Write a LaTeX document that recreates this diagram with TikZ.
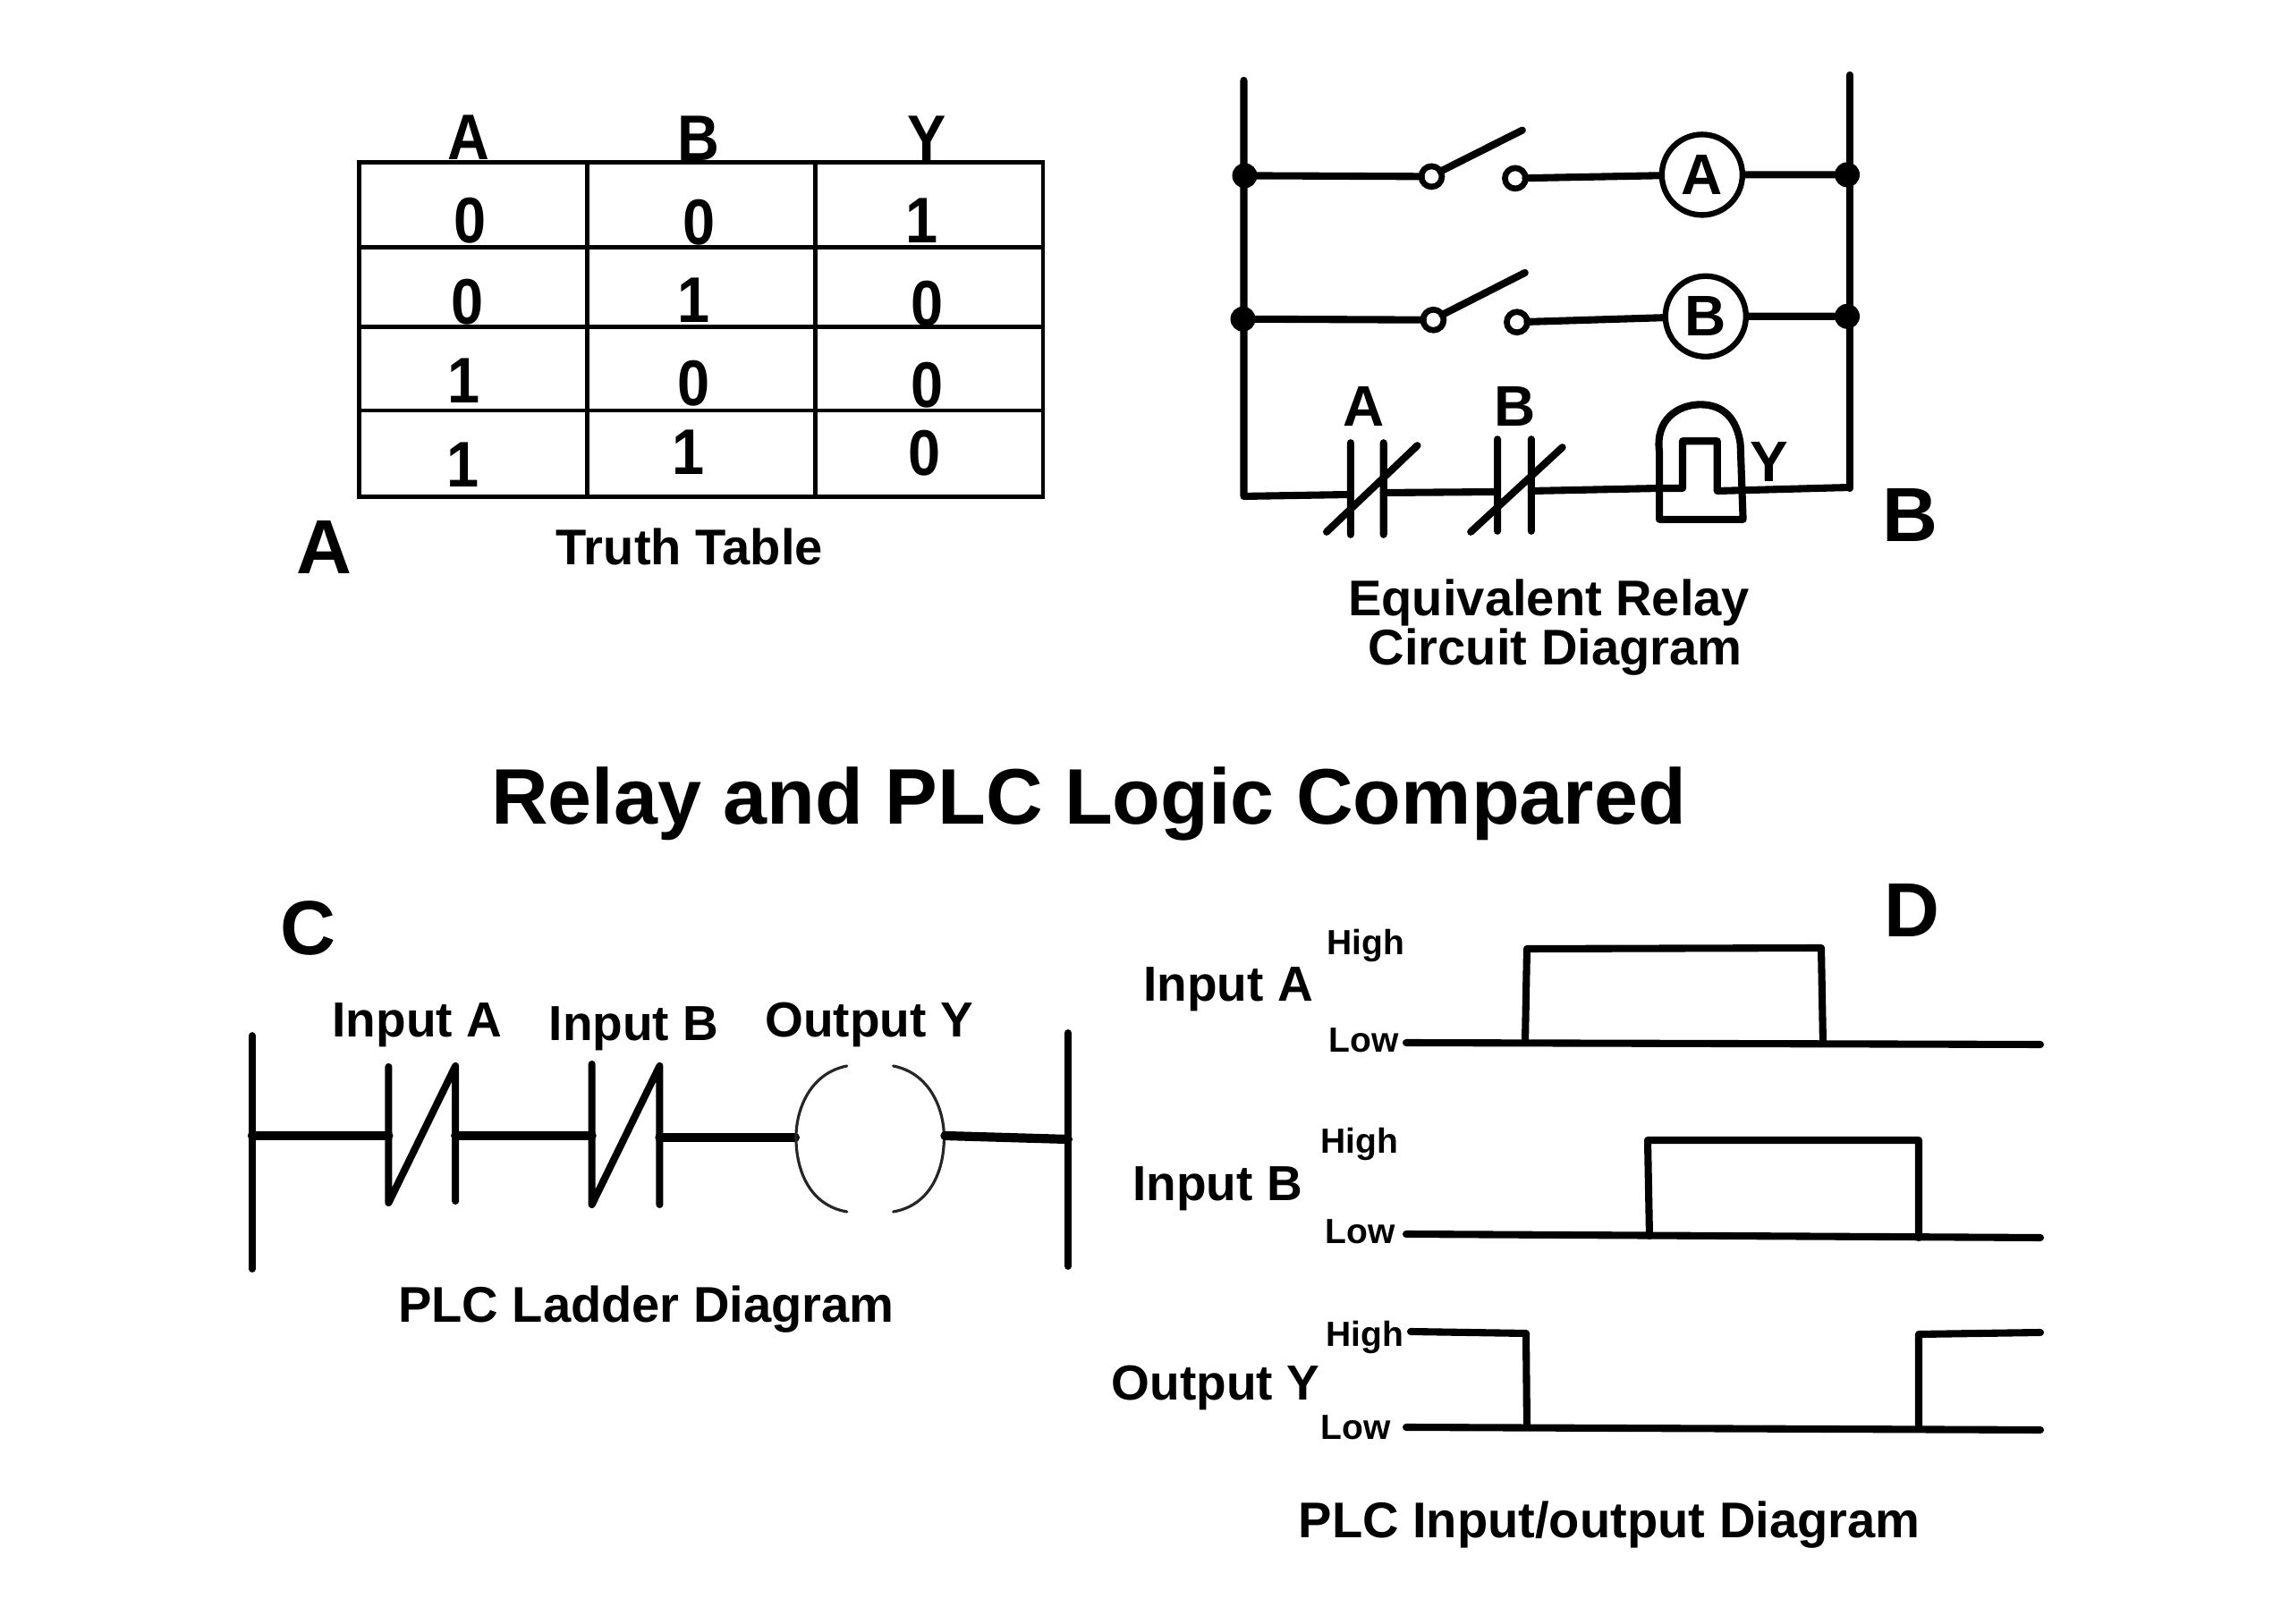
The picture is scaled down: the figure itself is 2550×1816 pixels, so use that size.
\documentclass[tikz,border=0pt]{standalone}
\usepackage{fontspec}
\setmainfont{Liberation Sans}
\newfontfamily\narrowbold[FakeStretch=0.9]{Liberation Sans}
\tikzset{
  lbl/.style={inner sep=0pt,outer sep=0pt,text depth=0pt,font=\bfseries,align=center},
  tbig/.style={lbl,font=\fontsize{24.4}{28}\selectfont\bfseries},
  ttitle/.style={lbl,font=\fontsize{25.04}{30}\selectfont\bfseries},
  tlab/.style={lbl,font=\fontsize{15.65}{16}\selectfont\bfseries},
  tcap/.style={lbl,font=\fontsize{15.95}{16}\selectfont\bfseries},
  tlvl/.style={lbl,font=\fontsize{11.1}{13}\selectfont\bfseries},
  tcell/.style={lbl,font=\narrowbold\fontsize{20.5}{22}\selectfont\bfseries},
  tsym/.style={lbl,font=\fontsize{18.2}{22}\selectfont\bfseries},
  wire/.style={line width=2.3pt,line cap=round,line join=round},
  railw/.style={line width=2.2pt,line cap=round},
  thickw/.style={line width=2.9pt,line cap=round,line join=round},
  grid/.style={line width=1.4pt},
  thin paren/.style={line width=0.9pt,line cap=round,black!85},
  dotn/.style={circle,fill=black,inner sep=0pt,minimum size=0.28cm,outer sep=0pt},
  term/.style={circle,draw=black,fill=white,line width=1.9pt,inner sep=0pt,minimum size=0.23cm,outer sep=0pt},
  relay/.style={circle,draw=black,fill=white,line width=1.8pt,inner sep=0pt,minimum size=0.9cm,outer sep=0.9pt,font=\fontsize{18.2}{22}\selectfont\bfseries},
  regionA/.style={shift={(300,100)},xscale=.9954,yscale=.9955,shift={(-300,-100)}},
  regionB/.style={shift={(1300,50)},xscale=.9948,yscale=.996,shift={(-1300,-50)}},
  regionC/.style={shift={(250,0)},xscale=.9968,shift={(-250,0)}},
}
\begin{document}
\begin{tikzpicture}[x=0.01cm,y=-0.01cm]
\useasboundingbox (0,0) rectangle (2550,1816);
\fill[white] (0,0) rectangle (2550,1816);

% ---- A: truth table
\begin{scope}[regionA]
\draw[grid] (402,182) rectangle (1170,558);
\draw[grid] (658,182) -- (658,558) (914,182) -- (914,558);
\draw[grid] (402,277) -- (1170,277) (402,366.5) -- (1170,366.5) (402,460.6) -- (1170,460.6);
\node[tcell] (hA) at (525,154) {A};
\node[tcell] (hB) at (783,155) {B};
\node[tcell] (hY) at (1040,155) {Y};
\node[tcell] (c11) at (526.5,247) {0};
\node[tcell] (c12) at (784,249) {0};
\node[tcell] (c13) at (1034,247) {1};
\node[tcell] (c21) at (524,338) {0};
\node[tcell] (c22) at (778,337) {1};
\node[tcell] (c23) at (1040,340) {0};
\node[tcell] (c31) at (520,427) {1};
\node[tcell] (c32) at (778,430) {0};
\node[tcell] (c33) at (1040,432) {0};
\node[tcell] (c41) at (519,522) {1};
\node[tcell] (c42) at (772,508) {1};
\node[tcell] (c43) at (1037,508) {0};
\node[tbig] (lA) at (363,614) {A};
\node[tcap] (capA) at (773,614) {Truth Table};
\end{scope}

% ---- B: relay circuit
\begin{scope}[regionB]
\coordinate (LT) at (1391,90);
\coordinate (LB) at (1391,557);
\coordinate (RT) at (2072,84);
\coordinate (RB) at (2072,548);
\draw[wire] (LT) -- (LB) -- (1511,555);
\draw[wire] (RT) -- (RB);
\node[dotn] (d1L) at (1392,197) {};
\node[dotn] (d1R) at (2069,196) {};
\node[dotn] (d2L) at (1390,358) {};
\node[dotn] (d2R) at (2069,355) {};
\node[term] (s1a) at (1602,198) {};
\node[term] (s1b) at (1696,200) {};
\node[term] (s2a) at (1604,359) {};
\node[term] (s2b) at (1698,361.5) {};
\node[relay] (rA) at (1906,196) {A};
\node[relay] (rB) at (1910,355) {B};
\coordinate (b1) at (1704,146);
\coordinate (b2) at (1707,306);
\draw[wire] (d1L) -- (s1a) (s1b) -- (rA) (rA) -- (d1R);
\draw[wire] (d2L) -- (s2a) (s2b) -- (rB) (rB) -- (d2R);
\draw[wire] (s1a.30) -- (b1);
\draw[wire] (s2a.30) -- (b2);
% NC contacts
\draw[wire] (1511,497) -- (1511,600) (1548,497) -- (1548,600) (1484,597) -- (1586,500);
\draw[wire] (1676,493) -- (1676,596) (1714,493) -- (1714,596) (1646,597) -- (1749,502);
\draw[wire] (1548,553) -- (1676,552);
% coil Y
\draw[wire] (1714,551) -- (1858,548) -- (1884,548) -- (1884,495) -- (1923,495) -- (1923,551) -- (2072,547);
\draw[wire] (1858,507) .. controls (1853,470) and (1880,454) .. (1904,454) .. controls (1930,454) and (1945,470) .. (1949,498) -- (1952,583) -- (1858,583) -- cycle;
\node[tsym] (tA) at (1526,456) {A};
\node[tsym] (tB) at (1696,456) {B};
\node[tsym] (tY) at (1981,518) {Y};
\node[tbig] (lB) at (2140,578) {B};
\node[tcap] (capB1) at (1734,671) {Equivalent Relay};
\node[tcap] (capB2) at (1741,726) {Circuit Diagram};
\end{scope}

% ---- Title
\node[ttitle] (title) at (1217,890) {Relay and PLC Logic Compared};

% ---- C: ladder
\begin{scope}[regionC]
\node[tbig] (lC) at (345,1038) {C};
\node[tlab] (inA) at (467,1141) {Input A};
\node[tlab] (inB) at (710,1145) {Input B};
\node[tlab] (outY) at (974,1140) {Output Y};
\coordinate (raL1) at (282,1158);
\coordinate (raL2) at (282,1419);
\coordinate (raR1) at (1197,1155);
\coordinate (raR2) at (1197,1416);
\draw[railw] (raL1) -- (raL2);
\draw[railw] (raR1) -- (raR2);
\draw[thickw] (282,1270) -- (435,1270);
\draw[wire] (435,1193) -- (435,1345) -- (510,1192) -- (510,1343);
\draw[thickw] (510,1270) -- (663,1270);
\draw[wire] (663,1190) -- (663,1347) -- (739,1192) -- (739,1347);
\draw[thickw] (739,1272) -- (891,1272);
\draw[thin paren] (949,1192) .. controls (908,1200) and (892,1240) .. (892,1272) .. controls (892,1310) and (908,1348) .. (949,1355);
\draw[thin paren] (1001,1192) .. controls (1042,1200) and (1058,1240) .. (1058,1272) .. controls (1058,1310) and (1042,1348) .. (1001,1355);
\draw[thickw] (1059,1270) -- (1197,1274);
\node[tcap] (capC) at (724,1458) {PLC Ladder Diagram};
\end{scope}

% ---- D: timing
\node[tbig] (lD) at (2137,1018) {D};
\node[tlab] (dA) at (1373,1101) {Input A};
\node[tlab] (dB) at (1361,1324) {Input B};
\node[tlab] (dY) at (1359,1546) {Output Y};
\node[tlvl] (hi1) at (1527,1053) {High};
\node[tlvl] (lo1) at (1525,1163) {Low};
\node[tlvl] (hi2) at (1520,1275) {High};
\node[tlvl] (lo2) at (1521,1377) {Low};
\node[tlvl] (hi3) at (1526,1491) {High};
\node[tlvl] (lo3) at (1516,1596) {Low};
\begin{scope}[xshift=-0.04cm]
\draw[wire] (1576,1166) -- (2285,1168);
\draw[wire] (1709,1166) -- (1711,1061) -- (2040,1060) -- (2042,1167);
\draw[wire] (1576,1380) -- (2285,1384);
\draw[wire] (1848,1382) -- (1846,1275) -- (2149,1275) -- (2149,1384);
\draw[wire] (1581,1489) -- (1710,1491) -- (1711,1596);
\draw[wire] (1576,1596) -- (2285,1599);
\draw[wire] (2149,1598) -- (2149,1492) -- (2285,1490);
\end{scope}
\node[tcap] (capD) at (1799,1699) {PLC Input/output Diagram};
\end{tikzpicture}
\end{document}
